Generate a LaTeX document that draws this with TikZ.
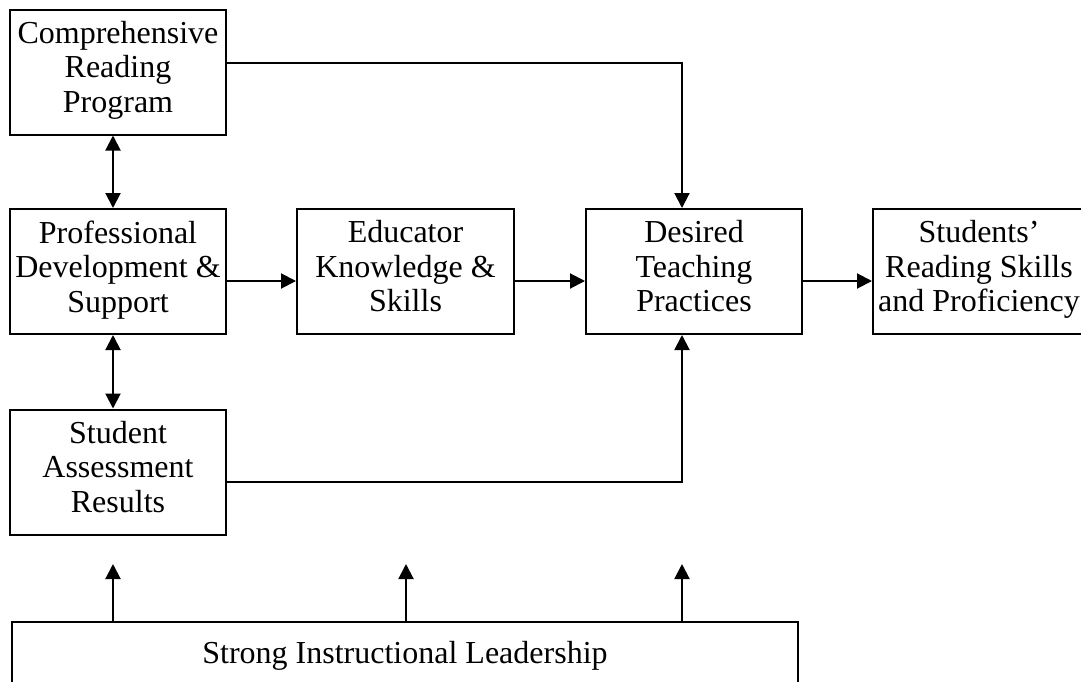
\documentclass[tikz,border=0pt]{standalone}
\usepackage{fontspec}
\setmainfont{Liberation Serif}
\usetikzlibrary{arrows.meta}
\begin{document}
\begin{tikzpicture}[x=1pt,y=-1pt,
  box/.style={draw,line width=2pt,minimum width=216pt,minimum height=125pt,inner sep=0pt,align=center,font=\fontsize{32}{34.5}\selectfont,execute at begin node=\strut,execute at end node=\strut},
  arr/.style={line width=2pt,-{Triangle[length=15pt,width=15pt]}},
  darr/.style={line width=2pt,{Triangle[length=15pt,width=15pt]}-{Triangle[length=15pt,width=15pt]}}]
\useasboundingbox (0,0) rectangle (1081,681);
\clip (0,0) rectangle (1081,681);
\node[box] (crp) at (118,72) {Comprehensive\\Reading\\Program};
\node[box] (pd) at (118,271.5) {Professional\\Development \&\\Support};
\node[box] (sar) at (118,472) {Student\\Assessment\\Results};
\node[box,minimum width=217pt] (edu) at (405.5,271.5) {Educator\\Knowledge \&\\Skills};
\node[box] (dtp) at (694,271.5) {Desired\\Teaching\\Practices};
\node[box,minimum width=212pt] (srs) at (979,271.5) {Students’\\Reading Skills\\and Proficiency};
\node[box,minimum width=786pt,minimum height=70pt] (sil) at (405,657) {Strong Instructional Leadership};
\coordinate (k1) at (682,63);
\coordinate (k2) at (682,482);
\coordinate (hy) at (0,281);
\coordinate (vx) at (113,0);
\coordinate (t1) at (113,564);
\coordinate (t2) at (406,564);
\coordinate (t3) at (682,564);
\draw[arr] (crp.east |- k1) -- (k1) -- (k1 |- dtp.north);
\draw[arr] (sar.east |- k2) -- (k2) -- (k2 |- dtp.south);
\draw[darr] (vx |- crp.south) -- (vx |- pd.north);
\draw[darr] (vx |- pd.south) -- (vx |- sar.north);
\draw[arr] (pd.east |- hy) -- (edu.west |- hy);
\draw[arr] (edu.east |- hy) -- (dtp.west |- hy);
\draw[arr] (dtp.east |- hy) -- (srs.west |- hy);
\draw[arr] (t1 |- sil.north) -- (t1);
\draw[arr] (t2 |- sil.north) -- (t2);
\draw[arr] (t3 |- sil.north) -- (t3);
\end{tikzpicture}
\end{document}
